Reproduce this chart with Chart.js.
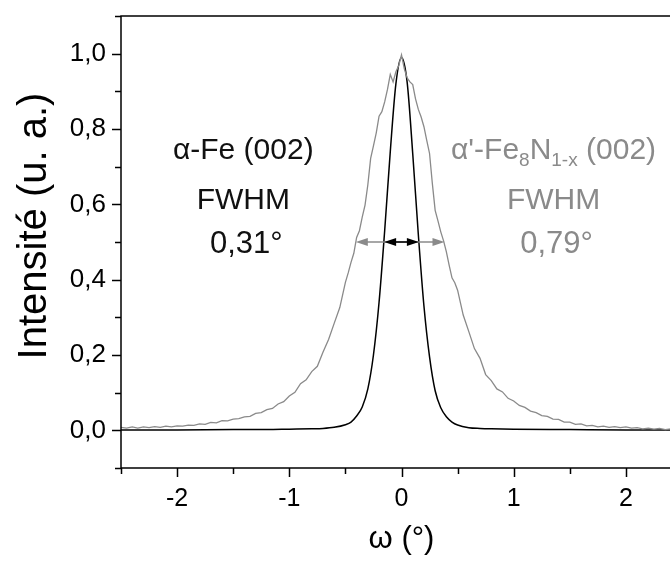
<!DOCTYPE html>
<html>
<head>
<meta charset="utf-8">
<script src="https://cdn.jsdelivr.net/npm/chart.js@4.4.1/dist/chart.umd.min.js"></script>
<style>
  html, body { margin: 0; padding: 0; background: #fff; overflow: hidden; }
  #wrap { width: 700px; height: 564px; }
</style>
</head>
<body>
<div id="wrap"><canvas id="peakChart" width="700" height="564"></canvas></div>
<script>
// alpha-Fe (002) rocking curve
const omegaFe = [-2.5, -2.0, -1.5, -1.2, -1.0, -0.8, -0.7, -0.6, -0.5, -0.45, -0.4, -0.35, -0.3, -0.25, -0.2, -0.15, -0.1, -0.05,
  0.0, 0.05, 0.1, 0.15, 0.2, 0.25, 0.3, 0.35, 0.4, 0.45, 0.5, 0.6, 0.7, 0.8, 1.0, 1.5, 2.0, 2.5];
const intensityFe = [0.001, 0.001, 0.002, 0.002, 0.003, 0.004, 0.005, 0.008, 0.015, 0.022, 0.038, 0.062, 0.110, 0.200, 0.340, 0.530, 0.740, 0.920,
  0.990, 0.925, 0.735, 0.520, 0.330, 0.195, 0.105, 0.060, 0.036, 0.022, 0.014, 0.007, 0.005, 0.004, 0.003, 0.002, 0.001, 0.001];

// alpha'-Fe8N1-x (002) rocking curve
const omegaFeN = [-2.5, -2.45, -2.4, -2.35, -2.3, -2.25, -2.2, -2.15, -2.1, -2.05, -2.0, -1.95, -1.9, -1.85, -1.8, -1.75, -1.7, -1.65,
  -1.6, -1.55, -1.5, -1.45, -1.4, -1.35, -1.3, -1.25, -1.2, -1.15, -1.1, -1.05, -1.0, -0.95, -0.9, -0.85, -0.8, -0.75, -0.7, -0.65,
  -0.6, -0.55, -0.5, -0.475, -0.45, -0.425, -0.4, -0.375, -0.35, -0.325, -0.3, -0.275, -0.25, -0.225, -0.2, -0.175, -0.15, -0.125,
  -0.1, -0.075, -0.05, -0.025, 0.0, 0.025, 0.05, 0.075, 0.1, 0.125, 0.15, 0.175, 0.2, 0.225, 0.25, 0.275, 0.3, 0.325, 0.35, 0.375,
  0.4, 0.425, 0.45, 0.475, 0.5, 0.55, 0.6, 0.65, 0.7, 0.75, 0.8, 0.85, 0.9, 0.95, 1.0, 1.05, 1.1, 1.15, 1.2, 1.25, 1.3, 1.35, 1.4,
  1.45, 1.5, 1.55, 1.6, 1.65, 1.7, 1.75, 1.8, 1.85, 1.9, 1.95, 2.0, 2.05, 2.1, 2.15, 2.2, 2.25, 2.3, 2.35, 2.4, 2.45, 2.5];
const intensityFeN = [0.008, 0.006, 0.009, 0.006, 0.009, 0.007, 0.010, 0.008, 0.011, 0.009, 0.012, 0.011, 0.014, 0.013, 0.017, 0.016, 0.021, 0.020,
  0.026, 0.025, 0.030, 0.031, 0.036, 0.037, 0.045, 0.047, 0.055, 0.058, 0.070, 0.076, 0.091, 0.101, 0.124, 0.134, 0.156, 0.170, 0.207, 0.241,
  0.284, 0.326, 0.393, 0.418, 0.446, 0.470, 0.512, 0.530, 0.566, 0.598, 0.652, 0.722, 0.755, 0.790, 0.834, 0.846, 0.872, 0.905,
  0.945, 0.925, 0.952, 0.968, 0.997, 0.960, 0.936, 0.925, 0.918, 0.880, 0.852, 0.832, 0.806, 0.770, 0.735, 0.655, 0.584, 0.556, 0.527, 0.503,
  0.474, 0.438, 0.405, 0.392, 0.372, 0.306, 0.262, 0.217, 0.191, 0.148, 0.132, 0.110, 0.102, 0.085, 0.078, 0.066, 0.061, 0.051, 0.047, 0.039, 0.037, 0.030, 0.029,
  0.022, 0.022, 0.016, 0.017, 0.012, 0.013, 0.009, 0.011, 0.008, 0.010, 0.007, 0.009, 0.006, 0.007, 0.004, 0.006, 0.003, 0.005, 0.002, 0.004, 0.002, 0.003];

// FWHM (degrees) and labelled ticks
const fwhmFe = 0.31;
const fwhmFeN = 0.79;
const xTickLabels = [-2, -1, 0, 1, 2];
const yTickLabels = [0.0, 0.2, 0.4, 0.6, 0.8, 1.0];

const FONT = '"Liberation Sans", Arial, sans-serif';
const GREY = '#8a8a8a';

function isMajor(list, v) {
  return list.some(t => Math.abs(t - v) < 1e-6);
}
function toPoints(xs, ys) {
  return xs.map((x, i) => ({ x: x, y: ys[i] }));
}

// cadre, graduations, flèches FWHM, textes
const decorations = {
  id: 'decorations',
  afterDatasetsDraw(chart) {
    const ctx = chart.ctx;
    const xs = chart.scales.x, ys = chart.scales.y;
    const y = ys.getPixelForValue(0.5);

    function arrow(x0, x1, color) {
      const p0 = xs.getPixelForValue(x0), p1 = xs.getPixelForValue(x1);
      ctx.save();
      ctx.strokeStyle = color; ctx.fillStyle = color; ctx.lineWidth = 1.5;
      ctx.beginPath(); ctx.moveTo(p0 + 4, y); ctx.lineTo(p1 - 4, y); ctx.stroke();
      ctx.beginPath(); ctx.moveTo(p0, y); ctx.lineTo(p0 + 12, y - 4); ctx.lineTo(p0 + 12, y + 4); ctx.closePath(); ctx.fill();
      ctx.beginPath(); ctx.moveTo(p1, y); ctx.lineTo(p1 - 12, y - 4); ctx.lineTo(p1 - 12, y + 4); ctx.closePath(); ctx.fill();
      ctx.restore();
    }
    arrow(-fwhmFeN / 2 - 0.012, fwhmFeN / 2 - 0.012, GREY);
    arrow(-fwhmFe / 2, fwhmFe / 2, '#000');
  },
  afterDraw(chart) {
    const ctx = chart.ctx, a = chart.chartArea;
    const xs = chart.scales.x, ys = chart.scales.y;
    ctx.save();
    ctx.strokeStyle = '#000';
    ctx.lineWidth = 1.5;
    ctx.beginPath();
    ctx.rect(a.left, a.top, a.right - a.left, a.bottom - a.top);
    xs.ticks.forEach(t => {
      const px = Math.round(xs.getPixelForValue(t.value)) + 0.5;
      ctx.moveTo(px, a.bottom);
      ctx.lineTo(px, a.bottom + (isMajor(xTickLabels, t.value) ? 9 : 6));
    });
    ys.ticks.forEach(t => {
      const py = Math.round(ys.getPixelForValue(t.value)) + 0.5;
      ctx.moveTo(a.left, py);
      ctx.lineTo(a.left - (isMajor(yTickLabels, t.value) ? 9 : 6), py);
    });
    ctx.stroke();

    // titres des axes
    ctx.fillStyle = '#000';
    ctx.textAlign = 'center';
    ctx.textBaseline = 'alphabetic';
    ctx.font = '31px ' + FONT;
    ctx.fillText('ω (°)', xs.getPixelForValue(0), 548);
    ctx.save();
    ctx.translate(46, 226);
    ctx.rotate(-Math.PI / 2);
    ctx.font = '40px ' + FONT;
    ctx.fillText('Intensité (u. a.)', 0, 0);
    ctx.restore();

    // annotations
    function line(parts, cx, base, color) {
      let w = 0;
      parts.forEach(p => { ctx.font = p[1] + 'px ' + FONT; w += ctx.measureText(p[0]).width; });
      let x = cx - w / 2;
      ctx.fillStyle = color;
      ctx.textAlign = 'left';
      parts.forEach(p => {
        ctx.font = p[1] + 'px ' + FONT;
        ctx.fillText(p[0], x, base + (p[2] || 0));
        x += ctx.measureText(p[0]).width;
      });
    }
    const bx = xs.getPixelForValue(-1.41), gx = xs.getPixelForValue(1.355);
    line([['α-Fe (002)', 30]], bx, 159, '#111');
    line([['FWHM', 30]], bx, 209, '#111');
    line([['0,31°', 31]], bx + 3, 253, '#111');
    line([["α'-Fe", 30], ['8', 19, 7], ['N', 30], ['1-x', 19, 7], [' (002)', 30]], gx, 159, GREY);
    line([['FWHM', 30]], gx, 209, GREY);
    line([['0,79°', 31]], gx + 3, 253, GREY);
    ctx.restore();
  }
};

new Chart(document.getElementById('peakChart'), {
  type: 'scatter',
  data: {
    datasets: [
      {
        label: "α'-Fe8N1-x (002)",
        data: toPoints(omegaFeN, intensityFeN),
        showLine: true,
        borderColor: GREY,
        borderWidth: 1.3,
        pointRadius: 0,
        tension: 0
      },
      {
        label: 'α-Fe (002)',
        data: toPoints(omegaFe, intensityFe),
        showLine: true,
        borderColor: '#000',
        borderWidth: 1.5,
        pointRadius: 0,
        cubicInterpolationMode: 'monotone'
      }
    ]
  },
  options: {
    responsive: false,
    animation: false,
    devicePixelRatio: 1,
    layout: { padding: { top: 16, right: 18, left: 0, bottom: 0 } },
    plugins: { legend: { display: false }, tooltip: { enabled: false } },
    scales: {
      x: {
        type: 'linear',
        min: -2.5,
        max: 2.5,
        grid: { display: false, drawTicks: false },
        border: { display: false },
        ticks: {
          stepSize: 0.5,
          autoSkip: false,
          maxRotation: 0,
          padding: 16,
          color: '#000',
          font: { family: FONT, size: 25 },
          callback: v => isMajor(xTickLabels, v) ? String(Math.round(v)) : ''
        },
        afterFit: s => { s.height = 96; s.paddingLeft = 0; s.paddingRight = 0; }
      },
      y: {
        min: -0.1,
        max: 1.1,
        grid: { display: false, drawTicks: false },
        border: { display: false },
        ticks: {
          stepSize: 0.1,
          autoSkip: false,
          padding: 15,
          color: '#000',
          font: { family: FONT, size: 26 },
          callback: v => isMajor(yTickLabels, v) ? (Math.round(v * 10) / 10).toFixed(1).replace('.', ',') : ''
        },
        afterFit: s => { s.width = 121; s.paddingTop = 0; s.paddingBottom = 0; }
      }
    }
  },
  plugins: [decorations]
});
</script>
</body>
</html>
